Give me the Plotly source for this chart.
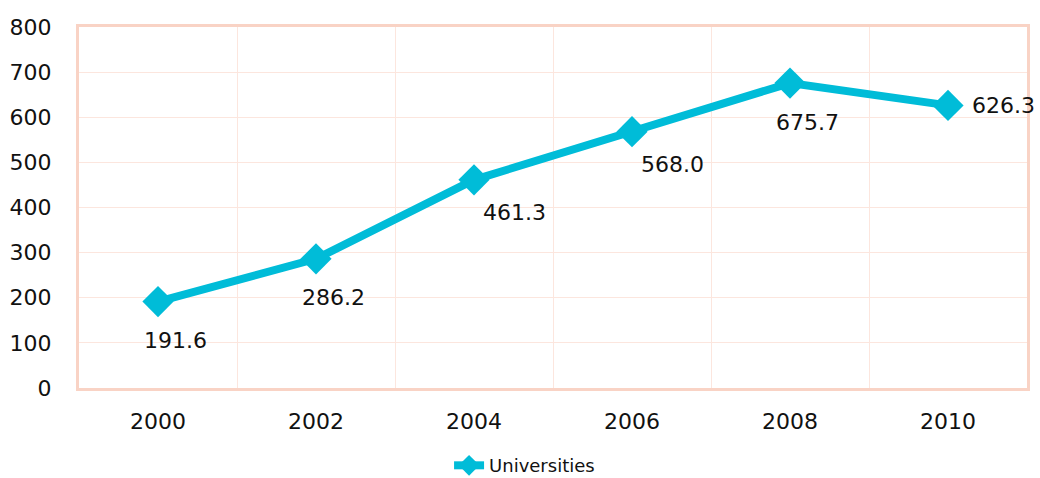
import plotly.graph_objects as go

years = ["2000", "2002", "2004", "2006", "2008", "2010"]
universities = [191.6, 286.2, 461.3, 568.0, 675.7, 626.3]
label_pos = ["below", "below", "below-right", "below-right", "below", "right"]

xs = list(range(len(years)))
color = "#00BCD8"
grid = "#FCE6DE"
border = "#F9D3C5"
font = "DejaVu Sans"

offsets = {"below": (17, -39, "center"), "below-right": (40, -33, "center"),
           "right": (22, 0, "left")}

fig = go.Figure()
fig.add_trace(go.Scatter(
    x=xs, y=universities, mode="lines+markers", name="Universities",
    line=dict(color=color, width=8),
    marker=dict(symbol="diamond", size=24, color=color),
))

for x, v, p in zip(xs, universities, label_pos):
    xsft, ysft, xa = offsets[p]
    fig.add_annotation(x=x, y=v, text=f"{v:.1f}", showarrow=False,
                       xshift=xsft, yshift=ysft, xanchor=xa, yanchor="middle",
                       font=dict(family=font, size=22, color="#111"))

fig.update_layout(
    width=1040, height=478,
    margin=dict(l=79, r=13, t=27, b=90, autoexpand=False),
    paper_bgcolor="white", plot_bgcolor="white",
    font=dict(family=font, size=22, color="#111"),
    showlegend=True,
    legend=dict(orientation="h", x=0.47, xanchor="center", y=-0.215, yanchor="middle",
                font=dict(family=font, size=18, color="#111")),
    xaxis=dict(range=[-0.5, 5.5], tickvals=xs, ticktext=years, showgrid=False,
               showline=True, mirror=True, linecolor=border, linewidth=3,
               ticks="", zeroline=False, ticklabelstandoff=12,
               minor=dict(tickvals=[0.5, 1.5, 2.5, 3.5, 4.5], showgrid=True,
                          gridcolor=grid, gridwidth=1, ticks="")),
    yaxis=dict(range=[0, 800], dtick=100, showgrid=True, gridcolor=grid, gridwidth=1,
               showline=True, mirror=True, linecolor=border, linewidth=3,
               ticks="", zeroline=False, ticklabelstandoff=20),
)

fig.write_html("out.html")
